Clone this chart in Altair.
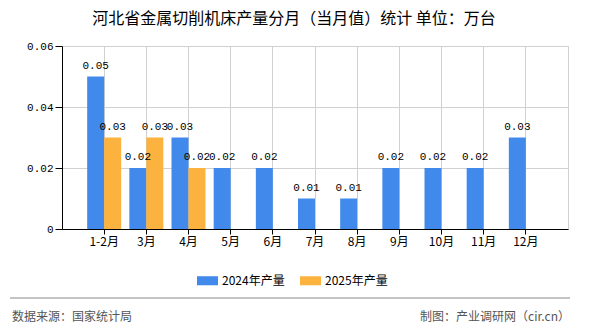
import altair as alt
import pandas as pd

months = ["1-2月", "3月", "4月", "5月", "6月", "7月", "8月", "9月", "10月", "11月", "12月"]
v2024 = [0.05, 0.02, 0.03, 0.02, 0.02, 0.01, 0.01, 0.02, 0.02, 0.02, 0.03]
v2025 = [0.03, 0.03, 0.02, None, None, None, None, None, None, None, None]
series = ["2024年产量", "2025年产量"]
colors = ["#418AEB", "#FBB23F"]
y_ticks = [0, 0.02, 0.04, 0.06]

rows = []
for m, a, b in zip(months, v2024, v2025):
    rows.append({"month": m, "series": series[0], "value": a})
    if b is not None:
        rows.append({"month": m, "series": series[1], "value": b})
df = pd.DataFrame(rows)

FONT = "Noto Sans CJK SC"
MONO = "Liberation Mono"
W, H = 506, 183
L, T = 62, 46

x_enc = alt.X(
    "month:N", sort=months,
    scale=alt.Scale(paddingInner=0.194, paddingOuter=0.597),
    axis=alt.Axis(title=None, labelAngle=0, bandPosition=0.5, tickSize=5, grid=True,
                  gridColor="#d0d0d0", domainColor="#000", tickColor="#000",
                  labelColor="#000", labelFontSize=12, labelPadding=2, labelFont=FONT),
)
xo_enc = alt.XOffset("series:N", scale=alt.Scale(domain=series, paddingInner=0, paddingOuter=0))
y_enc = alt.Y(
    "value:Q",
    scale=alt.Scale(domain=[0, 0.06], nice=False),
    axis=alt.Axis(title=None, values=y_ticks, tickSize=7, grid=True, gridColor="#d0d0d0",
                  domainColor="#000", tickColor="#000", labelColor="#000", labelFontSize=11,
                  labelPadding=2, labelFont=MONO,
                  labelExpr="datum.value == 0 ? '0' : format(datum.value, '.2f')"),
)

base = alt.Chart(df)

bars = base.mark_bar().encode(
    x=x_enc, xOffset=xo_enc, y=y_enc,
    color=alt.Color("series:N", scale=alt.Scale(domain=series, range=colors),
                    legend=alt.Legend(title=None, orient="none", legendX=135, legendY=224,
                                      direction="horizontal",
                                      symbolType="M-1,-0.43L1,-0.43L1,0.43L-1,0.43Z",
                                      symbolSize=441, symbolStrokeWidth=0, labelFontSize=12,
                                      labelFont=FONT, labelColor="#000", labelOffset=4,
                                      columnPadding=15)),
)

labels = base.mark_text(baseline="bottom", dy=-6, fontSize=11, font=MONO, color="#000").encode(
    x=x_enc, xOffset=xo_enc, y=y_enc,
    text=alt.Text("value:Q", format=".2f"),
)

one = alt.Data(values=[{"a": 1}])
line = alt.Chart(one).mark_rule(color="#888888", strokeWidth=1).encode(
    x=alt.value(10 - L), x2=alt.value(570 - L), y=alt.value(298 - T)
)
src = alt.Chart(one).mark_text(align="left", baseline="middle", fontSize=12, font=FONT, color="#555").encode(
    x=alt.value(12 - L), y=alt.value(317 - T), text=alt.value("数据来源：国家统计局")
)
maker = alt.Chart(one).mark_text(align="right", baseline="middle", fontSize=12, font=FONT, color="#555").encode(
    x=alt.value(570 - L), y=alt.value(317 - T), text=alt.value("制图：产业调研网（cir.cn）")
)

chart = alt.layer(bars, labels, line, src, maker).properties(
    width=W, height=H,
    autosize="none",
    padding={"left": L, "top": T, "right": 590 - L - W, "bottom": 330 - T - H},
    title=alt.Title("河北省金属切削机床产量分月（当月值）统计 单位：万台", anchor="middle", dx=-21,
                    fontSize=16, fontWeight="normal", font=FONT, color="#000", offset=13),
).configure_view(stroke="#d0d0d0")

chart.save("out.html", embed_options={"renderer": "svg", "actions": False})
